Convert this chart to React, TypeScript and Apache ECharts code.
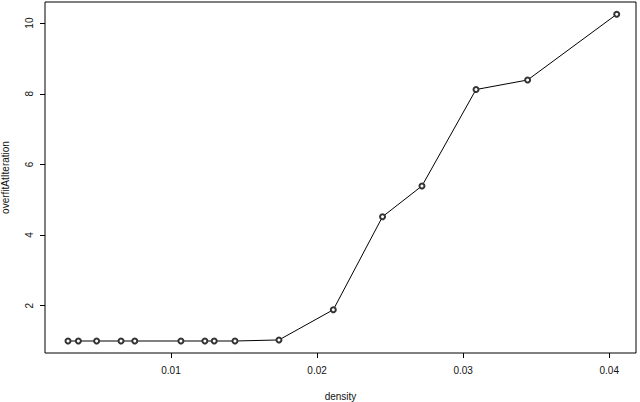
import React, { useEffect, useRef } from "react";
import * as echarts from "echarts";

// density vs. the iteration at which overfitting began
const density = [
  0.00295, 0.00366, 0.00491, 0.00658, 0.00752, 0.01068, 0.01232, 0.01296,
  0.01438, 0.01739, 0.02111, 0.02448, 0.02718, 0.03088, 0.03441, 0.04051,
];
const overfitAtIteration = [
  1, 1, 1, 1, 1, 1, 1, 1, 1, 1.03, 1.885, 4.52, 5.39, 8.12, 8.39, 10.25,
];
const xTicks = [0.01, 0.02, 0.03, 0.04];
const yTicks = [2, 4, 6, 8, 10];

const App: React.FC = () => {
  const chartRef = useRef<HTMLDivElement>(null);

  useEffect(() => {
    if (!chartRef.current) return;
    const chart = echarts.init(chartRef.current, undefined, { renderer: "svg" });
    const font = "Liberation Sans, Arial, sans-serif";

    chart.setOption({
      animation: false,
      backgroundColor: "#fff",
      grid: {
        left: 45,
        top: 2,
        right: 4,
        bottom: 49,
        outerBoundsMode: "none",
        containLabel: false,
        show: true,
        borderColor: "#000",
        borderWidth: 1,
        backgroundColor: "transparent",
      },
      xAxis: {
        type: "value",
        min: 0.001376,
        max: 0.04183,
        name: "density",
        nameLocation: "middle",
        nameGap: 38,
        nameTextStyle: { fontFamily: font, fontSize: 10, color: "#111" },
        axisLine: { show: false },
        splitLine: { show: false },
        axisTick: {
          show: true,
          length: 5,
          lineStyle: { color: "#000" },
          customValues: xTicks,
        },
        axisLabel: {
          fontFamily: font,
          fontSize: 10,
          color: "#111",
          margin: 12,
          customValues: xTicks,
          formatter: (v: number) => String(v),
        },
      },
      yAxis: {
        type: "value",
        min: 0.6605,
        max: 10.598,
        name: "overfitAtIteration",
        nameLocation: "middle",
        nameGap: 35,
        nameTextStyle: { fontFamily: font, fontSize: 10, color: "#111" },
        axisLine: { show: false },
        splitLine: { show: false },
        axisTick: {
          show: true,
          length: 5,
          lineStyle: { color: "#000" },
          customValues: yTicks,
        },
        axisLabel: {
          fontFamily: font,
          fontSize: 10,
          color: "#111",
          rotate: 90,
          margin: 11,
          customValues: yTicks,
        },
      },
      series: [
        {
          type: "line",
          data: density.map((d, i) => [d, overfitAtIteration[i]]),
          symbol: "emptyCircle",
          symbolSize: 5,
          lineStyle: { color: "#000", width: 1 },
          itemStyle: { color: "#333", borderWidth: 0.6 },
        },
      ],
    });

    return () => chart.dispose();
  }, []);

  return (
    <div
      ref={chartRef}
      style={{ position: "fixed", left: 0, top: 0, width: "640px", height: "402px" }}
    />
  );
};

export default App;
